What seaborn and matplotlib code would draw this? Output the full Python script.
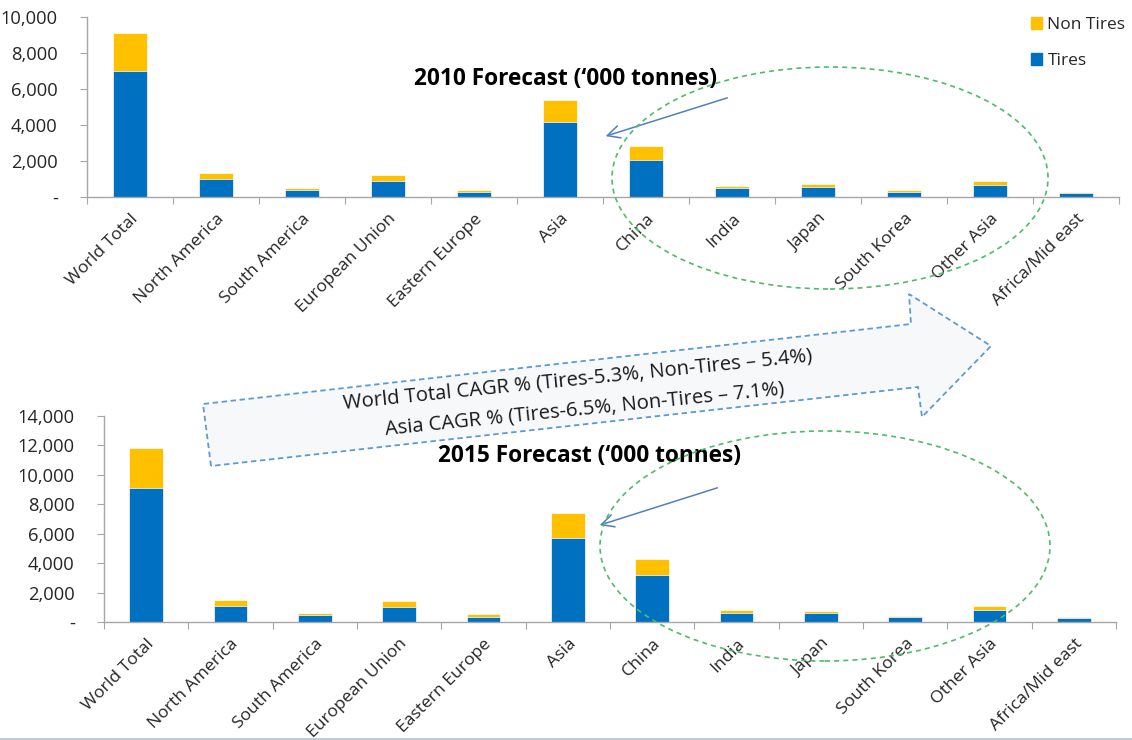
import matplotlib
matplotlib.use("Agg")
import matplotlib.pyplot as plt
import seaborn as sns
import numpy as np
import pandas as pd
from matplotlib.patches import Polygon, Ellipse, Rectangle, FancyArrowPatch
from matplotlib.lines import Line2D
from matplotlib.ticker import FuncFormatter, FixedLocator

categories = ["World Total", "North America", "South America", "European Union",
              "Eastern Europe", "Asia", "China", "India", "Japan", "South Korea",
              "Other Asia", "Africa/Mid east"]

tires_2010 = [7020, 980, 370, 910, 280, 4170, 2080, 480, 540, 300, 690, 220]
non_tires_2010 = [2090, 370, 130, 330, 90, 1240, 760, 110, 160, 70, 220, 60]

tires_2015 = [9100, 1070, 450, 1040, 360, 5700, 3170, 640, 590, 360, 820, 250]
non_tires_2015 = [2750, 400, 180, 370, 160, 1740, 1110, 180, 160, 70, 290, 90]

title_2010 = "2010 Forecast (\u2018000 tonnes)"
title_2015 = "2015 Forecast (\u2018000 tonnes)"
cagr_lines = ["World Total CAGR % (Tires-5.3%, Non-Tires \u2013 5.4%)",
              "Asia CAGR % (Tires-6.5%, Non-Tires \u2013 7.1%)"]

TIRES_C = "#0070C0"
NON_C = "#FFC000"
TEXT_C = "#262626"

sns.set_theme(style="white")
plt.rcParams['font.family'] = ['Open Sans', 'DejaVu Sans']

W, H = 1132, 740
fig = plt.figure(figsize=(W / 100, H / 100), dpi=100)


def fx(x):
    return x / W


def fy(y):
    return 1 - y / H


def px_ax(l, t, r, b):
    return fig.add_axes([fx(l), fy(b), fx(r) - fx(l), fy(t) - fy(b)])


def draw_panel(ax, tires, non, ymax):
    df = pd.DataFrame({"cat": categories, "tires": tires,
                       "total": np.array(tires) + np.array(non)})
    sns.barplot(data=df, x="cat", y="total", color=NON_C, width=0.4, ax=ax,
                saturation=1, edgecolor="#ffffff", linewidth=0.5)
    sns.barplot(data=df, x="cat", y="tires", color=TIRES_C, width=0.4, ax=ax,
                saturation=1, edgecolor="#ffffff", linewidth=0.5)
    ax.set_xlim(-0.5, len(categories) - 0.5)
    ax.set_ylim(0, ymax)
    ax.set_xlabel("")
    ax.set_ylabel("")
    ax.set_yticks(np.arange(0, ymax + 1, 2000))
    ax.yaxis.set_major_formatter(FuncFormatter(lambda v, p: "-" if v == 0 else f"{v:,.0f}"))
    ax.tick_params(axis="y", labelsize=13.2, labelcolor=TEXT_C, length=5, width=0.8,
                   left=True, color="#a6a6a6", pad=16)
    ax.set_xticks(range(len(categories)))
    ax.set_xticklabels(categories, rotation=45, ha="right", va="top",
                       rotation_mode="anchor", fontsize=12.6, color=TEXT_C)
    ax.tick_params(axis="x", which="major", length=0, pad=10)
    ax.xaxis.set_minor_locator(FixedLocator(np.arange(-0.5, len(categories), 1.0)))
    ax.tick_params(axis="x", which="minor", bottom=True, length=5, width=0.8, color="#a6a6a6")
    for s in ["top", "right"]:
        ax.spines[s].set_visible(False)
    for s in ["left", "bottom"]:
        ax.spines[s].set_color("#a6a6a6")
        ax.spines[s].set_linewidth(1.0)
    ax.patch.set_alpha(0)


ax1 = px_ax(87, 17, 1119, 197)
draw_panel(ax1, tires_2010, non_tires_2010, 10000)
ax2 = px_ax(104, 416, 1116, 622)
draw_panel(ax2, tires_2015, non_tires_2015, 14000)

# legend
handles = [Rectangle((0, 0), 1, 1, color=NON_C), Rectangle((0, 0), 1, 1, color=TIRES_C)]
fig.legend(handles, ["Non Tires", "Tires"], loc="upper left",
           bbox_to_anchor=(fx(1031), fy(17)), frameon=False, fontsize=12.5,
           handlelength=0.65, handleheight=0.65, handletextpad=0.3, labelspacing=1.15,
           borderpad=0, borderaxespad=0, labelcolor=TEXT_C)

# big dashed block arrow (background annotation)
pts = [(211, 466), (203, 404), (911, 324), (909, 294), (991, 346), (922, 417), (918, 387)]
arrow = Polygon([(fx(x), fy(y)) for x, y in pts], closed=True, transform=fig.transFigure,
                facecolor="#f7f8fa", edgecolor="#5b9bd5", linestyle=(0, (3, 2)),
                linewidth=1.3, zorder=0)
fig.patches.append(arrow)
fig.text(fx(578), fy(380), cagr_lines[0], rotation=5.8, ha="center", va="center",
         fontsize=14.6, color="#1a1a1a", rotation_mode="anchor")
fig.text(fx(585), fy(409), cagr_lines[1], rotation=5.8, ha="center", va="center",
         fontsize=14.6, color="#1a1a1a", rotation_mode="anchor")

# green dashed ellipses
for cx, cy, w, h in [(830, 178, 436, 222), (825, 546, 450, 230)]:
    e = Ellipse((fx(cx), fy(cy)), fx(w), h / H, transform=fig.transFigure, fill=False,
                edgecolor="#4dbb6b", linestyle=(0, (3, 2.5)), linewidth=1.2, zorder=5)
    fig.patches.append(e)

# titles
fig.text(fx(566), fy(79), title_2010, ha="center", va="center", fontsize=16.3,
         fontweight="bold", color="#000000")
fig.text(fx(590), fy(456), title_2015, ha="center", va="center", fontsize=16.3,
         fontweight="bold", color="#000000")

# thin pointer arrows
for (x0, y0), (x1, y1) in [((730, 97), (603, 137)), ((720, 487), (597, 526))]:
    fig.add_artist(FancyArrowPatch(
        (fx(x0), fy(y0)), (fx(x1), fy(y1)), transform=fig.transFigure,
        arrowstyle="->,head_length=6,head_width=3", color="#4f81bd", linewidth=1.1,
        mutation_scale=1.5))

# bottom frame line
fig.add_artist(Line2D([0, 1], [fy(738.5), fy(738.5)], transform=fig.transFigure,
                      color="#b4bfd8", linewidth=1.2))

fig.savefig("out.png", dpi=100)
